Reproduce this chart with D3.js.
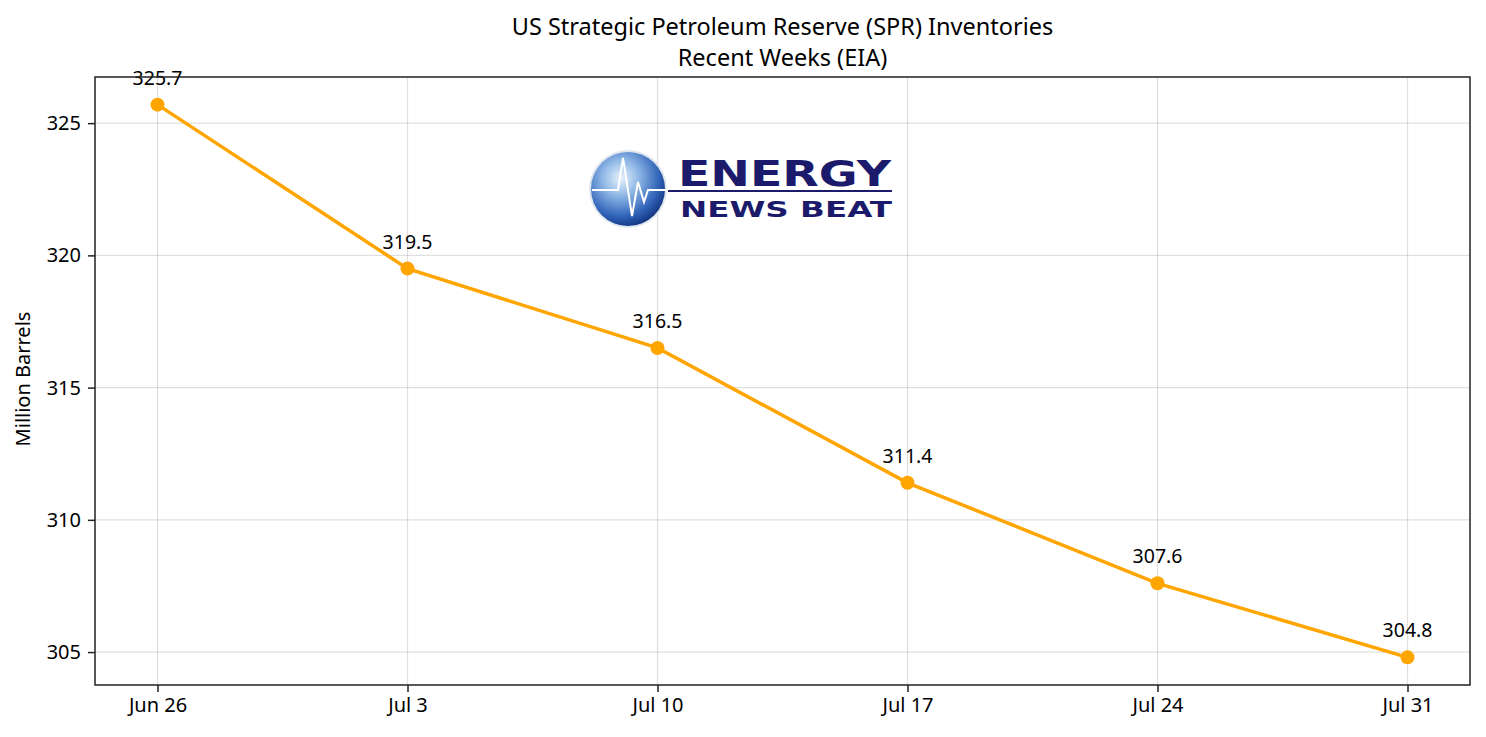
<!DOCTYPE html>
<html>
<head>
<meta charset="utf-8">
<script src="https://cdn.jsdelivr.net/npm/d3@7"></script>
<style>
  body { margin: 0; background: #fff; }
  svg text { font-family: "Noto Sans", sans-serif; fill: #000; }
</style>
</head>
<body>
<div id="chart"></div>
<script>
// weekly SPR inventories, million barrels
const weekLabels = ['Jun 26', 'Jul 3', 'Jul 10', 'Jul 17', 'Jul 24', 'Jul 31'];
const inventories = [325.7, 319.5, 316.5, 311.4, 307.6, 304.8];
const yTicks = [305, 310, 315, 320, 325];

const width = 1486;
const height = 737;
const margin = { top: 77, right: 16, bottom: 52, left: 95 };

const svg = d3.select('#chart').append('svg')
  .attr('width', width)
  .attr('height', height);

const plotW = width - margin.left - margin.right;
const plotH = height - margin.top - margin.bottom;

// matplotlib style 5% padding on both axes
const n = weekLabels.length;
const x = d3.scaleLinear()
  .domain([-0.05 * (n - 1), (n - 1) * 1.05])
  .range([margin.left, margin.left + plotW]);

const yMin = d3.min(inventories);
const yMax = d3.max(inventories);
const pad = (yMax - yMin) * 0.05;
const y = d3.scaleLinear()
  .domain([yMin - pad, yMax + pad])
  .range([margin.top + plotH, margin.top]);

// grid
const grid = svg.append('g').attr('stroke', '#000').attr('stroke-opacity', 0.12).attr('stroke-width', 1.2);
grid.selectAll('line.gx')
  .data(d3.range(n))
  .enter()
  .append('line')
  .attr('x1', (d) => x(d)).attr('x2', (d) => x(d))
  .attr('y1', margin.top).attr('y2', margin.top + plotH);
grid.selectAll('line.gy')
  .data(yTicks)
  .enter()
  .append('line')
  .attr('x1', margin.left).attr('x2', margin.left + plotW)
  .attr('y1', (d) => y(d)).attr('y2', (d) => y(d));

// logo (Energy News Beat)
const logo = svg.append('g').attr('transform', 'translate(590,150)');
const defs = svg.append('defs');
const globeGrad = defs.append('radialGradient').attr('id', 'globe').attr('cx', '40%').attr('cy', '35%').attr('r', '70%');
globeGrad.append('stop').attr('offset', '0%').attr('stop-color', '#e8f2fb');
globeGrad.append('stop').attr('offset', '35%').attr('stop-color', '#8fb8e6');
globeGrad.append('stop').attr('offset', '75%').attr('stop-color', '#2f62b8');
globeGrad.append('stop').attr('offset', '100%').attr('stop-color', '#0f2f7a');
logo.append('circle').attr('cx', 38).attr('cy', 39).attr('r', 39).attr('fill', '#dfe6ee');
logo.append('circle').attr('cx', 38).attr('cy', 39).attr('r', 37).attr('fill', 'url(#globe)');
logo.append('path')
  .attr('d', 'M2,40 L28,40 L33,8 L42,66 L48,32 L54,52 L58,40 L78,40')
  .attr('fill', 'none').attr('stroke', '#fff').attr('stroke-width', 2);
logo.append('line')
  .attr('x1', 78).attr('x2', 302).attr('y1', 41).attr('y2', 41)
  .attr('stroke', '#1b1a6b').attr('stroke-width', 2);
logo.append('text')
  .attr('x', 88).attr('y', 36)
  .attr('textLength', 213).attr('lengthAdjust', 'spacingAndGlyphs')
  .style('font-family', '"DejaVu Sans", sans-serif')
  .style('font-weight', 'bold').style('font-size', '36px')
  .style('fill', '#1b1a6b')
  .text('ENERGY');
logo.append('text')
  .attr('x', 90).attr('y', 67)
  .attr('textLength', 212).attr('lengthAdjust', 'spacingAndGlyphs')
  .style('font-family', '"DejaVu Sans", sans-serif')
  .style('font-weight', 'bold').style('font-size', '22px')
  .style('fill', '#1b1a6b')
  .text('NEWS BEAT');

// line + markers
const line = d3.line().x((d, i) => x(i)).y((d) => y(d));
svg.append('path')
  .datum(inventories)
  .attr('d', line)
  .attr('fill', 'none')
  .attr('stroke', '#ffa500')
  .attr('stroke-width', 3.5);
svg.selectAll('circle.pt')
  .data(inventories)
  .enter()
  .append('circle')
  .attr('class', 'pt')
  .attr('cx', (d, i) => x(i))
  .attr('cy', (d) => y(d))
  .attr('r', 7)
  .attr('fill', '#ffa500');

// value labels
svg.selectAll('text.val')
  .data(inventories)
  .enter()
  .append('text')
  .attr('class', 'val')
  .attr('x', (d, i) => x(i))
  .attr('y', (d) => y(d) - 20)
  .attr('text-anchor', 'middle')
  .style('font-size', '19.5px')
  .text((d) => d.toFixed(1));

// axes
const xAxis = d3.axisBottom(x)
  .tickValues(d3.range(n))
  .tickFormat((i) => weekLabels[i])
  .tickSize(7)
  .tickPadding(6);
const yAxis = d3.axisLeft(y)
  .tickValues(yTicks)
  .tickSize(7)
  .tickPadding(7);

const gx = svg.append('g')
  .attr('transform', `translate(0,${margin.top + plotH})`)
  .call(xAxis);
const gy = svg.append('g')
  .attr('transform', `translate(${margin.left},0)`)
  .call(yAxis);
[gx, gy].forEach((g) => {
  g.select('.domain').remove();
  g.selectAll('line').attr('stroke', '#222').attr('stroke-width', 1.5);
  g.selectAll('text').style('font-size', '20px').style('font-family', '"Noto Sans", sans-serif').attr('fill', '#000');
});

// frame
svg.append('rect')
  .attr('x', margin.left).attr('y', margin.top)
  .attr('width', plotW).attr('height', plotH)
  .attr('fill', 'none').attr('stroke', '#222').attr('stroke-width', 1.5);

// y label
svg.append('text')
  .attr('transform', `translate(30,${margin.top + plotH / 2 - 2}) rotate(-90)`)
  .attr('text-anchor', 'middle')
  .style('font-size', '20px')
  .text('Million Barrels');

// title
svg.append('text')
  .attr('x', margin.left + plotW / 2).attr('y', 35)
  .attr('text-anchor', 'middle')
  .style('font-size', '23.5px')
  .text('US Strategic Petroleum Reserve (SPR) Inventories');
svg.append('text')
  .attr('x', margin.left + plotW / 2).attr('y', 66)
  .attr('text-anchor', 'middle')
  .style('font-size', '23.5px')
  .text('Recent Weeks (EIA)');
</script>
</body>
</html>
